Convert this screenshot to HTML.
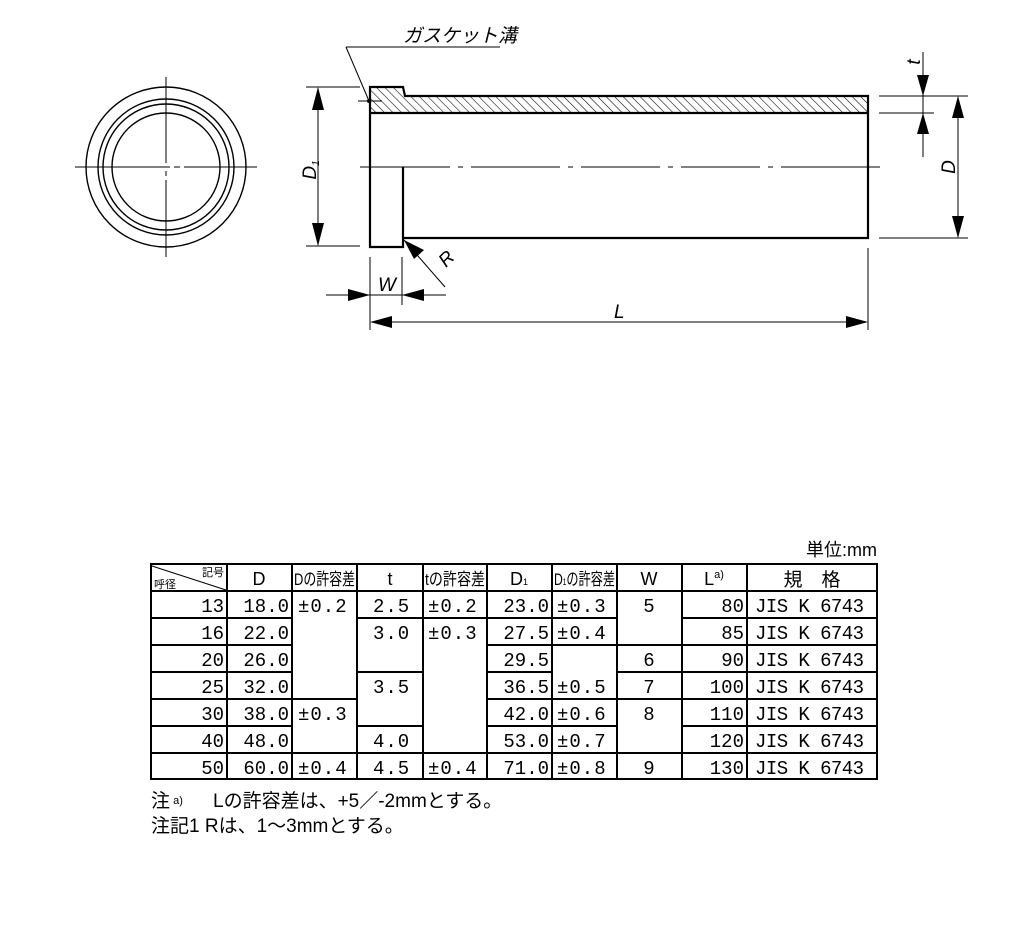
<!DOCTYPE html>
<html><head><meta charset="utf-8"><style>
html,body{margin:0;padding:0;background:#fff;}
svg{display:block;}
text{font-family:"Liberation Sans","Noto Sans CJK JP",sans-serif;fill:#000;}
.c text,text.c{font-family:"Liberation Sans","Noto Sans CJK JP",sans-serif;}
.m text{font-family:"Liberation Mono","Noto Sans CJK JP",monospace;}
</style></head><body>
<svg width="1018" height="938" viewBox="0 0 1018 938" xmlns="http://www.w3.org/2000/svg">
<defs>
<pattern id="h" patternUnits="userSpaceOnUse" width="6" height="6" patternTransform="rotate(-45)">
<line x1="0" y1="0" x2="0" y2="6" stroke="#000" stroke-width="1.1"/>
</pattern>
</defs>
<g fill="none" stroke="#000" stroke-width="1.4">
<circle cx="166" cy="167" r="80"/>
<circle cx="166" cy="167" r="68"/>
<circle cx="166" cy="167" r="63"/>
<circle cx="166" cy="167" r="54"/>
</g>
<g stroke="#000" stroke-width="1">
<line x1="166" y1="77" x2="166" y2="163"/><line x1="166" y1="171" x2="166" y2="176"/><line x1="166" y1="180" x2="166" y2="257"/>
<line x1="75" y1="167" x2="170" y2="167"/><line x1="174" y1="167" x2="180" y2="167"/><line x1="184" y1="167" x2="257" y2="167"/>
</g>
<path d="M370,87 L403,87 L405,96 L868,96 L868,113 L370,113 Z" fill="url(#h)" stroke="none"/>
<g fill="none" stroke="#000" stroke-width="2.2">
<path d="M370,113 L370,87 L403,87 L405,96 L868,96 L868,238 L403,238 L403,247 L370,247 L370,113"/>
<line x1="370" y1="113" x2="868" y2="113"/>
<line x1="403" y1="167" x2="403" y2="238"/>
</g>
<g stroke="#000" stroke-width="1" fill="none">
<line x1="360" y1="167" x2="450" y2="167"/><line x1="458" y1="167" x2="463" y2="167"/><line x1="471" y1="167" x2="560" y2="167"/>
<line x1="568" y1="167" x2="573" y2="167"/><line x1="581" y1="167" x2="660" y2="167"/><line x1="668" y1="167" x2="673" y2="167"/>
<line x1="681" y1="167" x2="760" y2="167"/><line x1="768" y1="167" x2="773" y2="167"/><line x1="781" y1="167" x2="880" y2="167"/>
<line x1="306" y1="87" x2="360" y2="87"/><line x1="306" y1="246" x2="360" y2="246"/>
<line x1="318" y1="88" x2="318" y2="245"/>
<line x1="346" y1="47" x2="500" y2="47"/>
<line x1="346" y1="47" x2="369" y2="101"/>
<line x1="358" y1="101" x2="382" y2="101"/>
<line x1="370" y1="257" x2="370" y2="330"/><line x1="402" y1="257" x2="402" y2="305"/>
<line x1="326" y1="295" x2="446" y2="295"/>
<line x1="404" y1="240" x2="445" y2="287"/>
<line x1="868" y1="248" x2="868" y2="330"/>
<line x1="372" y1="322" x2="866" y2="322"/>
<line x1="879" y1="96" x2="968" y2="96"/><line x1="879" y1="238" x2="968" y2="238"/>
<line x1="879" y1="113" x2="934" y2="113"/>
<line x1="958" y1="97" x2="958" y2="237"/>
<line x1="923" y1="52" x2="923" y2="157"/>
</g>
<g fill="#000">
<polygon points="318,87 312,110 324,110"/><polygon points="318,246 312,223 324,223"/>
<circle cx="369" cy="101" r="2"/>
<polygon points="370,295 348,289 348,301"/><polygon points="402,295 424,289 424,301"/>
<polygon points="404,240 424,250 414,259"/>
<polygon points="370,322 392,316 392,328"/><polygon points="868,322 846,316 846,328"/>
<polygon points="958,96 952,118 964,118"/><polygon points="958,238 952,216 964,216"/>
<polygon points="923,96 917,75 929,75"/><polygon points="923,113 917,134 929,134"/>
</g>
<g font-style="italic" font-size="19">
<text x="403" y="42" font-size="19">ガスケット溝</text>
<text transform="translate(316,170) rotate(-90)" text-anchor="middle">D<tspan font-size="10" dy="3">1</tspan></text>
<text x="378" y="291">W</text>
<text transform="translate(446,268) rotate(-45)">R</text>
<text x="614" y="318">L</text>
<text transform="translate(955,167) rotate(-90)" text-anchor="middle">D</text>
<text transform="translate(920,62) rotate(-90)" text-anchor="middle">t</text>
</g>
<text x="877" y="556" text-anchor="end" font-size="18">単位:mm</text>
<g stroke="#000" stroke-width="2" fill="none">
<rect x="151" y="564" width="726" height="215"/>
<line x1="151" y1="591" x2="877" y2="591"/>
<line x1="227" y1="564" x2="227" y2="779"/><line x1="292" y1="564" x2="292" y2="779"/>
<line x1="357" y1="564" x2="357" y2="779"/><line x1="423" y1="564" x2="423" y2="779"/>
<line x1="487" y1="564" x2="487" y2="779"/><line x1="552" y1="564" x2="552" y2="779"/>
<line x1="617" y1="564" x2="617" y2="779"/><line x1="682" y1="564" x2="682" y2="779"/>
<line x1="747" y1="564" x2="747" y2="779"/>
<path d="M151,618H292M151,645H292M151,672H292M151,699H292M151,726H292M151,753H292"/>
<path d="M292,699H357M292,753H357"/>
<path d="M357,618H423M357,672H423M357,726H423M357,753H423"/>
<path d="M423,618H487M423,753H487"/>
<path d="M487,618H552M487,645H552M487,672H552M487,699H552M487,726H552M487,753H552"/>
<path d="M552,618H617M552,645H617M552,699H617M552,726H617M552,753H617"/>
<path d="M617,645H682M617,672H682M617,699H682M617,753H682"/>
<path d="M682,618H877M682,645H877M682,672H877M682,699H877M682,726H877M682,753H877"/>
<line x1="152" y1="566" x2="226" y2="590" stroke-width="1"/>
</g>
<g>
<text x="224" y="576" text-anchor="end" font-size="11">記号</text>
<text x="154" y="588" font-size="11">呼径</text>
<g font-size="18" text-anchor="middle">
<text x="259" y="585">D</text>
<text x="294" y="585" font-size="17" text-anchor="start" textLength="61" lengthAdjust="spacingAndGlyphs">Dの許容差</text>
<text x="390" y="585">t</text>
<text x="425" y="585" font-size="17" text-anchor="start" textLength="60" lengthAdjust="spacingAndGlyphs">tの許容差</text>
<text x="519" y="585">D<tspan font-size="9">1</tspan></text>
<text x="554" y="585" font-size="17" text-anchor="start" textLength="61" lengthAdjust="spacingAndGlyphs">D<tspan font-size="9">1</tspan>の許容差</text>
<text x="649" y="585">W</text>
<text x="714" y="585">L<tspan font-size="11" dy="-7">a)</tspan></text>
<text x="812" y="586" font-size="19">規　格</text>
</g>
</g>
<g class="m" font-size="19">
<g text-anchor="end">
<text x="224" y="612">13</text><text x="224" y="639">16</text><text x="224" y="666">20</text><text x="224" y="693">25</text><text x="224" y="720">30</text><text x="224" y="747">40</text><text x="224" y="774">50</text>
<text x="289" y="612">18.0</text><text x="289" y="639">22.0</text><text x="289" y="666">26.0</text><text x="289" y="693">32.0</text><text x="289" y="720">38.0</text><text x="289" y="747">48.0</text><text x="289" y="774">60.0</text>
<text x="549" y="612">23.0</text><text x="549" y="639">27.5</text><text x="549" y="666">29.5</text><text x="549" y="693">36.5</text><text x="549" y="720">42.0</text><text x="549" y="747">53.0</text><text x="549" y="774">71.0</text>
<text x="744" y="612">80</text><text x="744" y="639">85</text><text x="744" y="666">90</text><text x="744" y="693">100</text><text x="744" y="720">110</text><text x="744" y="747">120</text><text x="744" y="774">130</text>
</g>
<g letter-spacing="1">
<text x="298" y="612">±0.2</text><text x="298" y="720">±0.3</text><text x="298" y="774">±0.4</text>
<text x="373" y="612">2.5</text><text x="373" y="639">3.0</text><text x="373" y="693">3.5</text><text x="373" y="747">4.0</text><text x="373" y="774">4.5</text>
<text x="428" y="612">±0.2</text><text x="428" y="639">±0.3</text><text x="428" y="774">±0.4</text>
<text x="557" y="612">±0.3</text><text x="557" y="639">±0.4</text><text x="557" y="693">±0.5</text><text x="557" y="720">±0.6</text><text x="557" y="747">±0.7</text><text x="557" y="774">±0.8</text>
</g>
<g text-anchor="middle">
<text x="649" y="612">5</text><text x="649" y="666">6</text><text x="649" y="693">7</text><text x="649" y="720">8</text><text x="649" y="774">9</text>
</g>
<g>
<text x="755" y="612" textLength="109">JIS K 6743</text><text x="755" y="639" textLength="109">JIS K 6743</text><text x="755" y="666" textLength="109">JIS K 6743</text><text x="755" y="693" textLength="109">JIS K 6743</text><text x="755" y="720" textLength="109">JIS K 6743</text><text x="755" y="747" textLength="109">JIS K 6743</text><text x="755" y="774" textLength="109">JIS K 6743</text>
</g>
</g>
<g font-size="19">
<text x="151" y="807">注<tspan font-size="11" dy="-3"> a)</tspan><tspan dy="3" x="213">Lの許容差は、+5／-2mmとする。</tspan></text>
<text x="151" y="832">注記1 Rは、1～3mmとする。</text>
</g>
</svg>
</body></html>
